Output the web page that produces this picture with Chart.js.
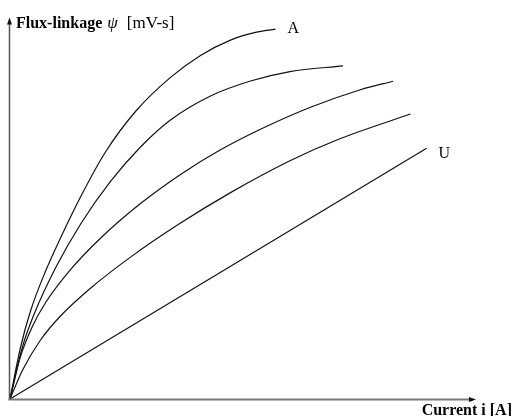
<!DOCTYPE html>
<html>
<head>
<meta charset="utf-8">
<script src="https://cdn.jsdelivr.net/npm/chart.js@4/dist/chart.umd.min.js"></script>
<style>
  html, body { margin: 0; padding: 0; background: #fff; }
  #wrap { width: 513px; height: 416px; }
</style>
</head>
<body>
<div id="wrap"><canvas id="fluxChart" width="513" height="416"></canvas></div>
<script>
// flux-linkage vs current (no tick labels, arbitrary units 0..10)
const iMax = 10;
const psiMax = 10;

const curveA_i   = [0, 0.225, 0.440, 0.762, 1.084, 1.513, 2.049, 2.693, 3.444, 4.088, 4.732, 5.268, 5.697];
const curveA_psi = [0, 1.352, 2.310, 3.352, 4.226, 5.302, 6.483, 7.546, 8.441, 9.018, 9.420, 9.622, 9.706];

const curveB_i   = [0, 0.268, 0.526, 0.976, 1.513, 2.157, 2.800, 3.444, 4.303, 5.161, 6.009, 7.146];
const curveB_psi = [0, 1.370, 2.252, 3.438, 4.588, 5.709, 6.614, 7.323, 7.953, 8.346, 8.593, 8.745];

const curveC_i   = [0, 0.215, 0.483, 0.762, 1.298, 1.942, 2.800, 3.659, 4.517, 5.375, 6.448, 7.521, 8.219];
const curveC_psi = [0, 1.076, 1.911, 2.525, 3.394, 4.220, 5.129, 5.895, 6.541, 7.081, 7.659, 8.118, 8.341];

const curveD_i   = [0, 0.268, 0.655, 1.084, 1.727, 2.586, 3.659, 4.732, 6.019, 7.092, 8.594];
const curveD_psi = [0, 0.756, 1.549, 2.178, 2.907, 3.724, 4.617, 5.417, 6.260, 6.837, 7.480];

const curveU_i   = [0, 8.94];
const curveU_psi = [0, 6.58];

const curveLabels = ['A', '', '', '', 'U'];

const SERIF = '"Liberation Serif", "DejaVu Serif", serif';

function toPoints(xs, ys) {
    return xs.map((x, k) => ({ x: x, y: ys[k] }));
}

function makeSet(label, xs, ys) {
    return {
        label: label,
        data: toPoints(xs, ys),
        borderColor: '#111',
        borderWidth: 1.2,
        pointRadius: 0,
        fill: false,
        cubicInterpolationMode: 'monotone',
        clip: false
    };
}

// axes with arrow heads + the text labels
const axesPlugin = {
    id: 'axesPlugin',
    afterDraw(chart) {
        const ctx = chart.ctx;
        const xs = chart.scales.x;
        const ys = chart.scales.y;
        const x0 = xs.getPixelForValue(0) - 0.5;
        const y0 = ys.getPixelForValue(0);
        const xEnd = xs.getPixelForValue(iMax);
        const yEnd = ys.getPixelForValue(psiMax) - 0.5;

        ctx.save();
        // y axis
        ctx.strokeStyle = '#555';
        ctx.lineWidth = 1.5;
        ctx.beginPath();
        ctx.moveTo(x0, y0 + 1);
        ctx.lineTo(x0, yEnd + 5);
        ctx.stroke();
        ctx.fillStyle = '#111';
        ctx.beginPath();
        ctx.moveTo(x0, yEnd);
        ctx.lineTo(x0 - 2.5, yEnd + 7);
        ctx.lineTo(x0 + 2.5, yEnd + 7);
        ctx.closePath();
        ctx.fill();

        // x axis
        ctx.strokeStyle = '#777';
        ctx.lineWidth = 2;
        ctx.beginPath();
        ctx.moveTo(x0 - 1, y0 + 0.5);
        ctx.lineTo(xEnd - 5, y0 + 0.5);
        ctx.stroke();
        ctx.fillStyle = '#111';
        ctx.beginPath();
        ctx.moveTo(xEnd, y0 + 0.5);
        ctx.lineTo(xEnd - 7, y0 - 2);
        ctx.lineTo(xEnd - 7, y0 + 3);
        ctx.closePath();
        ctx.fill();

        // axis titles
        ctx.fillStyle = '#000';
        ctx.textBaseline = 'alphabetic';
        ctx.textAlign = 'left';
        let tx = x0 + 6.5;
        const ty = yEnd + 10;
        ctx.font = 'bold 16px ' + SERIF;
        ctx.fillText('Flux-linkage', tx, ty);
        tx += ctx.measureText('Flux-linkage').width + 5;
        ctx.font = 'italic 17px ' + SERIF;
        ctx.fillText('\u03C8', tx, ty);
        tx += ctx.measureText('\u03C8').width + 9;
        ctx.font = '17px ' + SERIF;
        ctx.fillText('[mV-s]', tx, ty);

        ctx.font = 'bold 16px ' + SERIF;
        ctx.textAlign = 'right';
        ctx.fillText('Current i [A]', chart.width - 1, y0 + 16);

        // curve end labels
        ctx.font = '16px ' + SERIF;
        ctx.textAlign = 'left';
        chart.data.datasets.forEach((ds, k) => {
            const txt = curveLabels[k];
            if (!txt) return;
            const last = ds.data[ds.data.length - 1];
            const px = xs.getPixelForValue(last.x);
            const py = ys.getPixelForValue(last.y);
            const dy = k === 0 ? 4 : 10;
            ctx.fillText(txt, px + 12, py + dy);
        });
        ctx.restore();
    }
};

new Chart(document.getElementById('fluxChart'), {
    type: 'line',
    data: {
        datasets: [
            makeSet('A', curveA_i, curveA_psi),
            makeSet('B', curveB_i, curveB_psi),
            makeSet('C', curveC_i, curveC_psi),
            makeSet('D', curveD_i, curveD_psi),
            makeSet('U', curveU_i, curveU_psi)
        ]
    },
    options: {
        responsive: false,
        animation: false,
        layout: { padding: { left: 10, right: 37, top: 18, bottom: 17 } },
        plugins: { legend: { display: false }, tooltip: { enabled: false } },
        scales: {
            x: { type: 'linear', min: 0, max: iMax, display: false },
            y: { type: 'linear', min: 0, max: psiMax, display: false }
        }
    },
    plugins: [axesPlugin]
});
</script>
</body>
</html>
